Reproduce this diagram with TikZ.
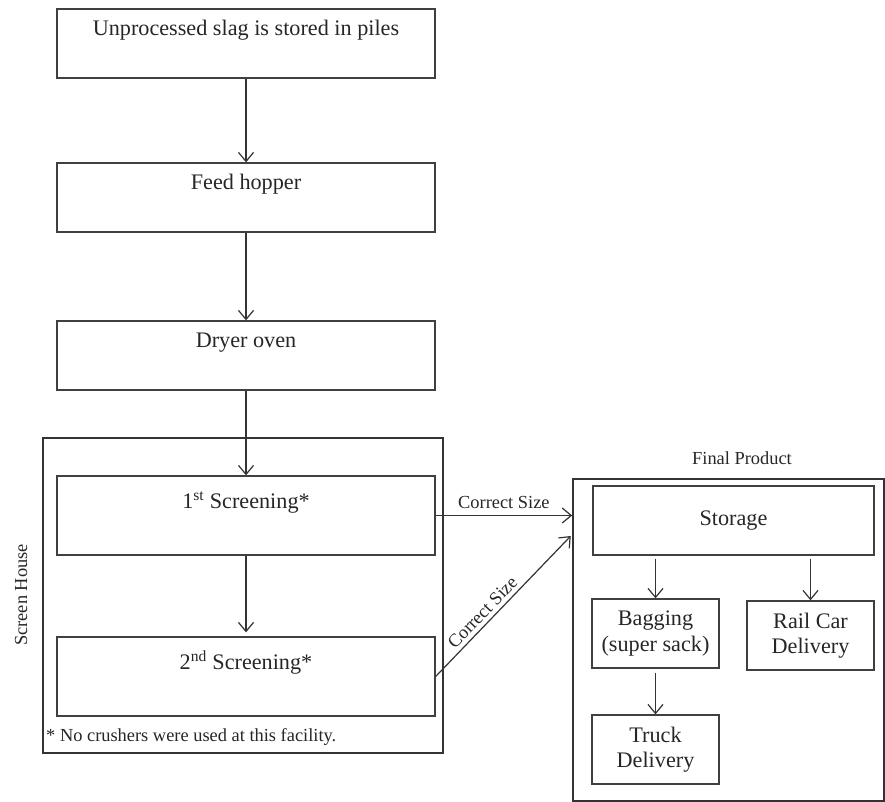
\documentclass[tikz,border=0pt]{standalone}
\usepackage{fontspec}
\setmainfont{Liberation Serif}
\usetikzlibrary{arrows.meta}

\begin{document}
\begin{tikzpicture}[x=1pt, y=-1pt,
	every node/.style = {font=\fontsize{22.2}{25.5}\selectfont, text=black!85},
	b/.style = {rectangle, draw=black!75, line width=1.3pt, minimum width=378, inner ysep=0pt, text height=26.5, text depth=42.5},
	sb/.style = {rectangle, draw=black!75, line width=1.3pt, minimum width=378, inner ysep=0pt, text height=32, text depth=47},
	s/.style = {rectangle, draw=black!75, line width=1.3pt, align=center, minimum width=127, minimum height=69, inner sep=0pt},
	f/.style = {rectangle, draw=black!80, line width=1.7pt, inner sep=0pt},
	l/.style = {font=\fontsize{18.4}{21}\selectfont, inner sep=1pt},
	r/.style = {-{Straight Barb[length=9pt, width=15pt]}, draw=black!80, line width=1.2pt}
	]
	\useasboundingbox (0,0) rectangle (885,802);

	%Nodes
	\node[b]	(piles)		at	(246, 43.5)		{Unprocessed slag is stored in piles};
	\node[b]	(hopper)	at	(246, 197.5)	{Feed hopper};
	\node[b]	(dryer)		at	(246, 355.5)	{Dryer oven};

	\node[f, minimum width=400, minimum height=315]	(house)	at	(243, 595.5)	{};
	\node[l, rotate=90]	(houselbl)	at	(21, 595)	{Screen House};
	\node[sb]	(scr1)		at	(246, 515.5)	{1\textsuperscript{st} Screening*};
	\node[sb]	(scr2)		at	(246, 676.5)	{2\textsuperscript{nd} Screening*};
	\node[l, anchor=west]	(note)	at	(45, 737)	{* No crushers were used at this facility.};

	\node[f, minimum width=311, minimum height=322]	(final)	at	(728.5, 640)	{};
	\node[l]	(finallbl)	at	(742, 458)	{Final Product};
	\node[s, minimum width=281]	(storage)	at	(733.5, 520.5)	{Storage};
	\node[s]	(bagging)	at	(655.5, 633.5)	{Bagging\\(super sack)};
	\node[s]	(rail)		at	(810.5, 635.5)	{Rail Car\\Delivery};
	\node[s]	(truck)		at	(655.5, 749.5)	{Truck\\Delivery};

	%Lines
	\draw[r]	(piles.south)	to	(hopper.north);
	\draw[r]	(hopper.south)	to	(dryer.north);
	\draw[r]	(dryer.south)	to	(scr1.north);
	\draw[r, shorten >=4pt]	(scr1.south)	to	(scr2.north);
	\draw[r]	(scr1.east)	to	node[l, above=5pt]	{Correct Size}	(scr1.east -| final.west);
	\draw[r, shorten >=2pt]	(scr2.east)	to	node[l, above=3pt, sloped, pos=0.4]	{Correct Size}	(final.146.5);
	\draw[r, shorten <=3pt]	(bagging.north |- storage.south)	to	(bagging.north);
	\draw[r, shorten <=3pt]	(rail.north |- storage.south)	to	(rail.north);
	\draw[r, shorten <=4pt]	(bagging.south)	to	(truck.north);
\end{tikzpicture}
\end{document}
